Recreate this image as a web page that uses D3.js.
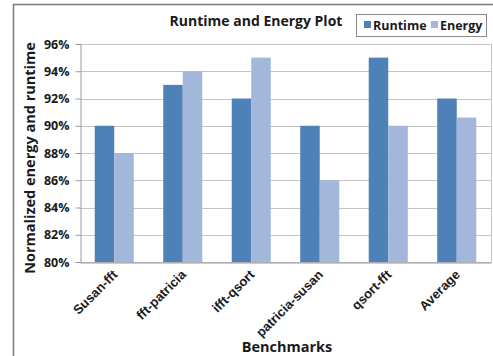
<!DOCTYPE html>
<html>
<head>
<meta charset="utf-8">
<script src="https://cdn.jsdelivr.net/npm/d3@7/dist/d3.min.js"></script>
<style>
  html, body { margin: 0; padding: 0; background: #fff; }
  svg { display: block; font-family: "Open Sans", "Noto Sans", sans-serif; }
</style>
</head>
<body>
<svg id="chart" width="493" height="356"></svg>
<script>
// Benchmark pairs and normalized results (percent)
const categories = ["Susan-fft", "fft-patricia", "ifft-qsort", "patricia-susan", "qsort-fft", "Average"];
const runtime = [90, 93, 92, 90, 95, 92];
const energy = [88, 94, 95, 86, 90, 90.6];
const seriesNames = ["Runtime", "Energy"];
const yTicks = [80, 82, 84, 86, 88, 90, 92, 94, 96];

const colors = { Runtime: "#4f81b9", Energy: "#a2b7d9" };

const svg = d3.select("#chart");
const plot = { left: 80, right: 491, top: 44, bottom: 262 };

// Outer chart frame
svg.append("rect")
  .attr("x", 13.5).attr("y", 4.5)
  .attr("width", 490).attr("height", 360)
  .attr("fill", "#fff").attr("stroke", "#7a7a7a").attr("stroke-width", 1.5);

const x = d3.scaleBand().domain(categories).range([plot.left, plot.right]).paddingInner(0.43).paddingOuter(0.215);
const xs = d3.scaleBand().domain(seriesNames).range([0, x.bandwidth()]);
const y = d3.scaleLinear().domain([80, 96]).range([plot.bottom, plot.top]);

// Gridlines
svg.append("g")
  .selectAll("line").data(yTicks).join("line")
  .attr("x1", plot.left).attr("x2", plot.right)
  .attr("y1", d => Math.round(y(d)) + 0.5).attr("y2", d => Math.round(y(d)) + 0.5)
  .attr("stroke", "#c4c4c4").attr("stroke-width", 1);

// Plot area right edge
svg.append("line")
  .attr("x1", plot.right + 0.5).attr("x2", plot.right + 0.5)
  .attr("y1", plot.top).attr("y2", plot.bottom)
  .attr("stroke", "#c4c4c4");

// Bars
const rows = categories.map((c, i) => ({ cat: c, Runtime: runtime[i], Energy: energy[i] }));
svg.append("g")
  .selectAll("g").data(rows).join("g")
  .attr("transform", d => `translate(${x(d.cat)},0)`)
  .selectAll("rect").data(d => seriesNames.map(k => ({ key: k, value: d[k] }))).join("rect")
  .attr("x", d => xs(d.key))
  .attr("width", xs.bandwidth())
  .attr("y", d => y(d.value))
  .attr("height", d => y(80) - y(d.value))
  .attr("fill", d => colors[d.key]);

// Y axis
const yAxis = svg.append("g")
  .attr("transform", `translate(${plot.left + 0.5},0)`)
  .call(d3.axisLeft(y).tickValues(yTicks).tickFormat(d => d + "%").tickSize(5).tickPadding(6));
yAxis.select(".domain").attr("stroke", "#9a9a9a");
yAxis.selectAll(".tick line").attr("stroke", "#9a9a9a");
yAxis.selectAll("text")
  .attr("font-size", 12.5).attr("font-weight", "bold").attr("fill", "#1a1a1a")
  .attr("font-family", "'Open Sans', sans-serif");

// X axis
const xAxis = svg.append("g")
  .attr("transform", `translate(0,${plot.bottom + 0.5})`)
  .call(d3.axisBottom(x).tickSize(0).tickPadding(0));
xAxis.select(".domain").attr("stroke", "#9a9a9a");
xAxis.selectAll(".tick text")
  .attr("font-size", 13).attr("font-weight", "bold").attr("fill", "#1a1a1a")
  .attr("text-anchor", "end")
  .attr("dy", 0)
  .attr("transform", "translate(4,13) rotate(-45)");

// Titles
svg.append("text")
  .attr("x", 256).attr("y", 26)
  .attr("text-anchor", "middle")
  .attr("font-size", 14).attr("font-weight", "bold").attr("fill", "#1a1a1a")
  .text("Runtime and Energy Plot");

svg.append("text")
  .attr("transform", "translate(35,158) rotate(-90)")
  .attr("text-anchor", "middle")
  .attr("font-size", 14.5).attr("font-weight", "bold").attr("fill", "#1a1a1a")
  .text("Normalized energy and runtime");

svg.append("text")
  .attr("x", 287).attr("y", 352)
  .attr("text-anchor", "middle")
  .attr("font-size", 14.5).attr("font-weight", "bold").attr("fill", "#1a1a1a")
  .text("Benchmarks");

// Legend
const legend = svg.append("g");
legend.append("rect")
  .attr("x", 356.5).attr("y", 14.5).attr("width", 130).attr("height", 22)
  .attr("fill", "#fff").attr("stroke", "#8a8a8a");
const legendItems = [
  { key: "Runtime", sx: 364, tx: 373 },
  { key: "Energy", sx: 431, tx: 440 }
];
legend.selectAll("rect.sw").data(legendItems).join("rect")
  .attr("class", "sw")
  .attr("x", d => d.sx).attr("y", 21).attr("width", 7).attr("height", 7)
  .attr("fill", d => colors[d.key]);
legend.selectAll("text").data(legendItems).join("text")
  .attr("x", d => d.tx).attr("y", 30)
  .attr("font-size", 12.5).attr("font-weight", "bold").attr("fill", "#1a1a1a")
  .text(d => d.key);
</script>
</body>
</html>
